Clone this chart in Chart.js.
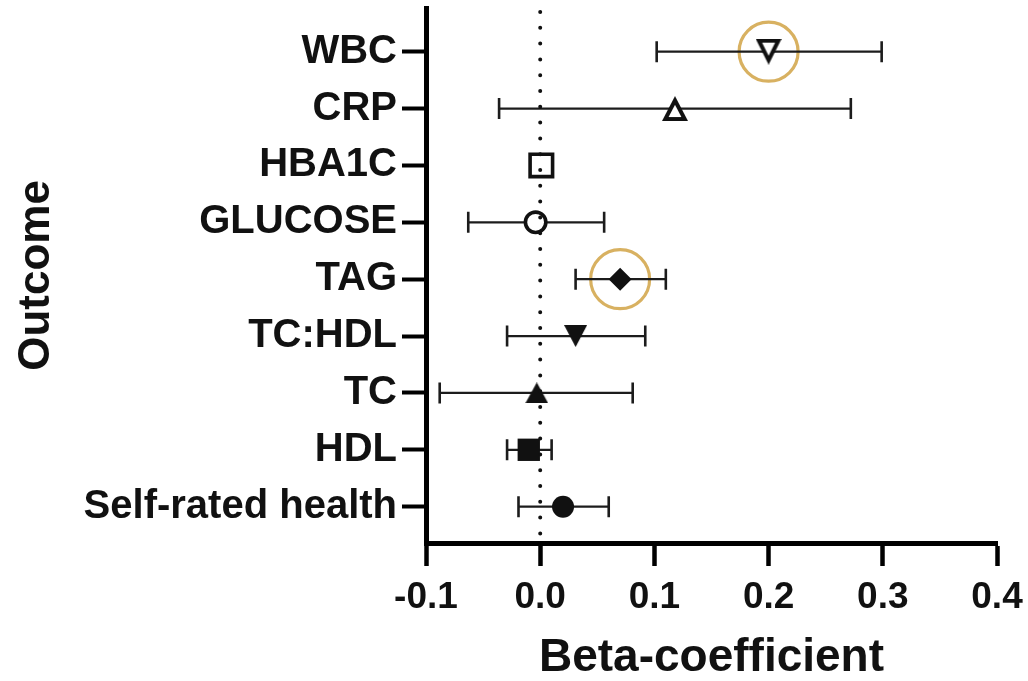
<!DOCTYPE html>
<html>
<head>
<meta charset="utf-8">
<script src="https://cdn.jsdelivr.net/npm/chart.js@4.4.1/dist/chart.umd.min.js"></script>
<style>
  html, body { margin: 0; padding: 0; background: #fff; }
  #wrap { width: 1028px; height: 681px; }
</style>
</head>
<body>
<div id="wrap"><canvas id="forest" width="1028" height="681"></canvas></div>
<script>
// Data
const outcomes = ['WBC', 'CRP', 'HBA1C', 'GLUCOSE', 'TAG', 'TC:HDL', 'TC', 'HDL', 'Self-rated health'];
const beta   = [0.200, 0.118, 0.001, -0.004, 0.070, 0.031, -0.003, -0.010, 0.020];
const ciLow  = [0.102, -0.036, -0.002, -0.063, 0.031, -0.029, -0.088, -0.029, -0.019];
const ciHigh = [0.299, 0.272, 0.004, 0.056, 0.110, 0.092, 0.081, 0.010, 0.060];
const markers = ['openDown', 'openUp', 'openSquare', 'openCircle', 'diamond', 'down', 'up', 'square', 'circle'];
const highlighted = ['WBC', 'TAG'];
const xTicks = [-0.1, 0.0, 0.1, 0.2, 0.3, 0.4];

const GOLD = '#D8B161';
const INK = '#111';

// row position: top row = highest value
const rowOf = name => outcomes.length - outcomes.indexOf(name);

// triangle marker as a small canvas so its bounding box is centred on the point
function triangleImage(w, h, down, open) {
  const c = document.createElement('canvas');
  c.width = w; c.height = h;
  const g = c.getContext('2d');
  const tri = (pts) => {
    g.beginPath();
    g.moveTo(pts[0][0], pts[0][1]);
    g.lineTo(pts[1][0], pts[1][1]);
    g.lineTo(pts[2][0], pts[2][1]);
    g.closePath();
  };
  let pts = down ? [[0, 0], [w, 0], [w / 2, h]] : [[w / 2, 0], [w, h], [0, h]];
  g.fillStyle = INK;
  tri(pts); g.fill();
  if (open) {
    // inset inner triangle around the incentre
    const s = Math.sqrt((w / 2) * (w / 2) + h * h);
    const rIn = w * h / (w + 2 * s);
    const t = 4;
    const k = (rIn - t) / rIn;
    const cx = w / 2, cy = down ? rIn : h - rIn;
    const inner = pts.map(p => [cx + (p[0] - cx) * k, cy + (p[1] - cy) * k]);
    g.fillStyle = '#fff';
    tri(inner); g.fill();
  }
  return c;
}

function markerStyle(kind) {
  switch (kind) {
    case 'openDown': return { style: triangleImage(26, 26, true, true), r: 13, bg: '#fff', bw: 0 };
    case 'openUp': return { style: triangleImage(26, 25, false, true), r: 13, bg: '#fff', bw: 0 };
    case 'down': return { style: triangleImage(23, 22, true, false), r: 12, bg: INK, bw: 0 };
    case 'up': return { style: triangleImage(23, 21, false, false), r: 12, bg: INK, bw: 0 };
    case 'openSquare': return { style: 'rect', r: 15.9, bg: '#fff', bw: 3.6 };
    case 'square': return { style: 'rect', r: 15.8, bg: INK, bw: 0 };
    case 'openCircle': return { style: 'circle', r: 10.2, bg: '#fff', bw: 3.6 };
    case 'circle': return { style: 'circle', r: 11, bg: INK, bw: 0 };
    case 'diamond': return { style: 'rectRot', r: 11.5, bg: INK, bw: 0 };
  }
}
const mStyles = markers.map(markerStyle);

// error bars under the markers, dotted zero line on top
const forestPlugin = {
  id: 'forest',
  beforeDatasetDraw(chart, args) {
    if (args.index !== 0) return;
    const { ctx, scales: { x, y } } = chart;
    ctx.save();
    ctx.strokeStyle = '#1c1c1c';
    outcomes.forEach((name, i) => {
      const py = y.getPixelForValue(rowOf(name));
      const x0 = x.getPixelForValue(ciLow[i]);
      const x1 = x.getPixelForValue(ciHigh[i]);
      ctx.lineWidth = 2.3;
      ctx.beginPath();
      ctx.moveTo(x0, py); ctx.lineTo(x1, py);
      ctx.stroke();
      ctx.lineWidth = 2.6;
      ctx.beginPath();
      ctx.moveTo(x0, py - 10.5); ctx.lineTo(x0, py + 10.5);
      ctx.moveTo(x1, py - 10.5); ctx.lineTo(x1, py + 10.5);
      ctx.stroke();
    });
    ctx.restore();
  },
  afterDatasetsDraw(chart) {
    const { ctx, chartArea, scales: { x } } = chart;
    const px = x.getPixelForValue(0);
    ctx.save();
    ctx.strokeStyle = INK;
    ctx.lineWidth = 4;
    ctx.lineCap = 'round';
    ctx.setLineDash([0, 15.8]);
    ctx.beginPath();
    ctx.moveTo(px, chartArea.top + 4);
    ctx.lineTo(px, chartArea.bottom);
    ctx.stroke();
    ctx.restore();
  }
};

Chart.defaults.font.family = '"Liberation Sans", Arial, sans-serif';
Chart.defaults.font.weight = 'bold';
Chart.defaults.color = INK;

new Chart(document.getElementById('forest'), {
  type: 'scatter',
  data: {
    datasets: [{
      data: outcomes.map((name, i) => ({ x: beta[i], y: rowOf(name) })),
      pointStyle: mStyles.map(m => m.style),
      pointRadius: mStyles.map(m => m.r),
      pointBackgroundColor: mStyles.map(m => m.bg),
      pointBorderColor: INK,
      pointBorderWidth: mStyles.map(m => m.bw),
      showLine: false
    }, {
      data: highlighted.map(name => ({ x: beta[outcomes.indexOf(name)], y: rowOf(name) })),
      pointStyle: 'circle',
      pointRadius: 29.5,
      pointBackgroundColor: 'rgba(0,0,0,0)',
      pointBorderColor: GOLD,
      pointBorderWidth: 3.2,
      showLine: false
    }]
  },
  options: {
    responsive: false,
    animation: false,
    events: [],
    layout: { autoPadding: false, padding: { top: 8, right: 31, left: 0, bottom: 0 } },
    plugins: { legend: { display: false }, tooltip: { enabled: false } },
    scales: {
      x: {
        type: 'linear',
        min: -0.1,
        max: 0.4,
        afterBuildTicks: s => { s.ticks = xTicks.map(v => ({ value: v })); },
        afterFit: s => { s.height = 138; s.paddingLeft = 0; s.paddingRight = 0; },
        grid: { drawOnChartArea: false, color: '#000', tickLength: 23, tickWidth: 4.5 },
        border: { color: '#000', width: 5 },
        ticks: {
          font: { size: 37, weight: 'bold' },
          color: INK,
          padding: 10,
          maxRotation: 0,
          callback: v => (Math.round(v * 10) / 10).toFixed(1)
        },
        title: {
          display: true,
          text: 'Beta-coefficient',
          font: { size: 46, weight: 'bold', lineHeight: 1 },
          color: INK,
          padding: { top: 0, bottom: 0 }
        }
      },
      y: {
        type: 'linear',
        min: 0.361,
        max: 9.768,
        afterBuildTicks: s => { s.ticks = outcomes.map(name => ({ value: rowOf(name) })); },
        afterFit: s => { s.width = 426; s.paddingTop = 0; s.paddingBottom = 0; },
        grid: { drawOnChartArea: false, color: '#000', tickLength: 24, tickWidth: 4 },
        border: { color: '#000', width: 5 },
        ticks: {
          font: { size: 40, weight: 'bold' },
          color: INK,
          padding: 5,
          callback: v => outcomes[outcomes.length - Math.round(v)]
        },
        title: {
          display: true,
          text: 'Outcome',
          font: { size: 44, weight: 'bold', lineHeight: 1 },
          color: INK,
          padding: { top: 15, bottom: 0 }
        }
      }
    }
  },
  plugins: [forestPlugin]
});
</script>
</body>
</html>
